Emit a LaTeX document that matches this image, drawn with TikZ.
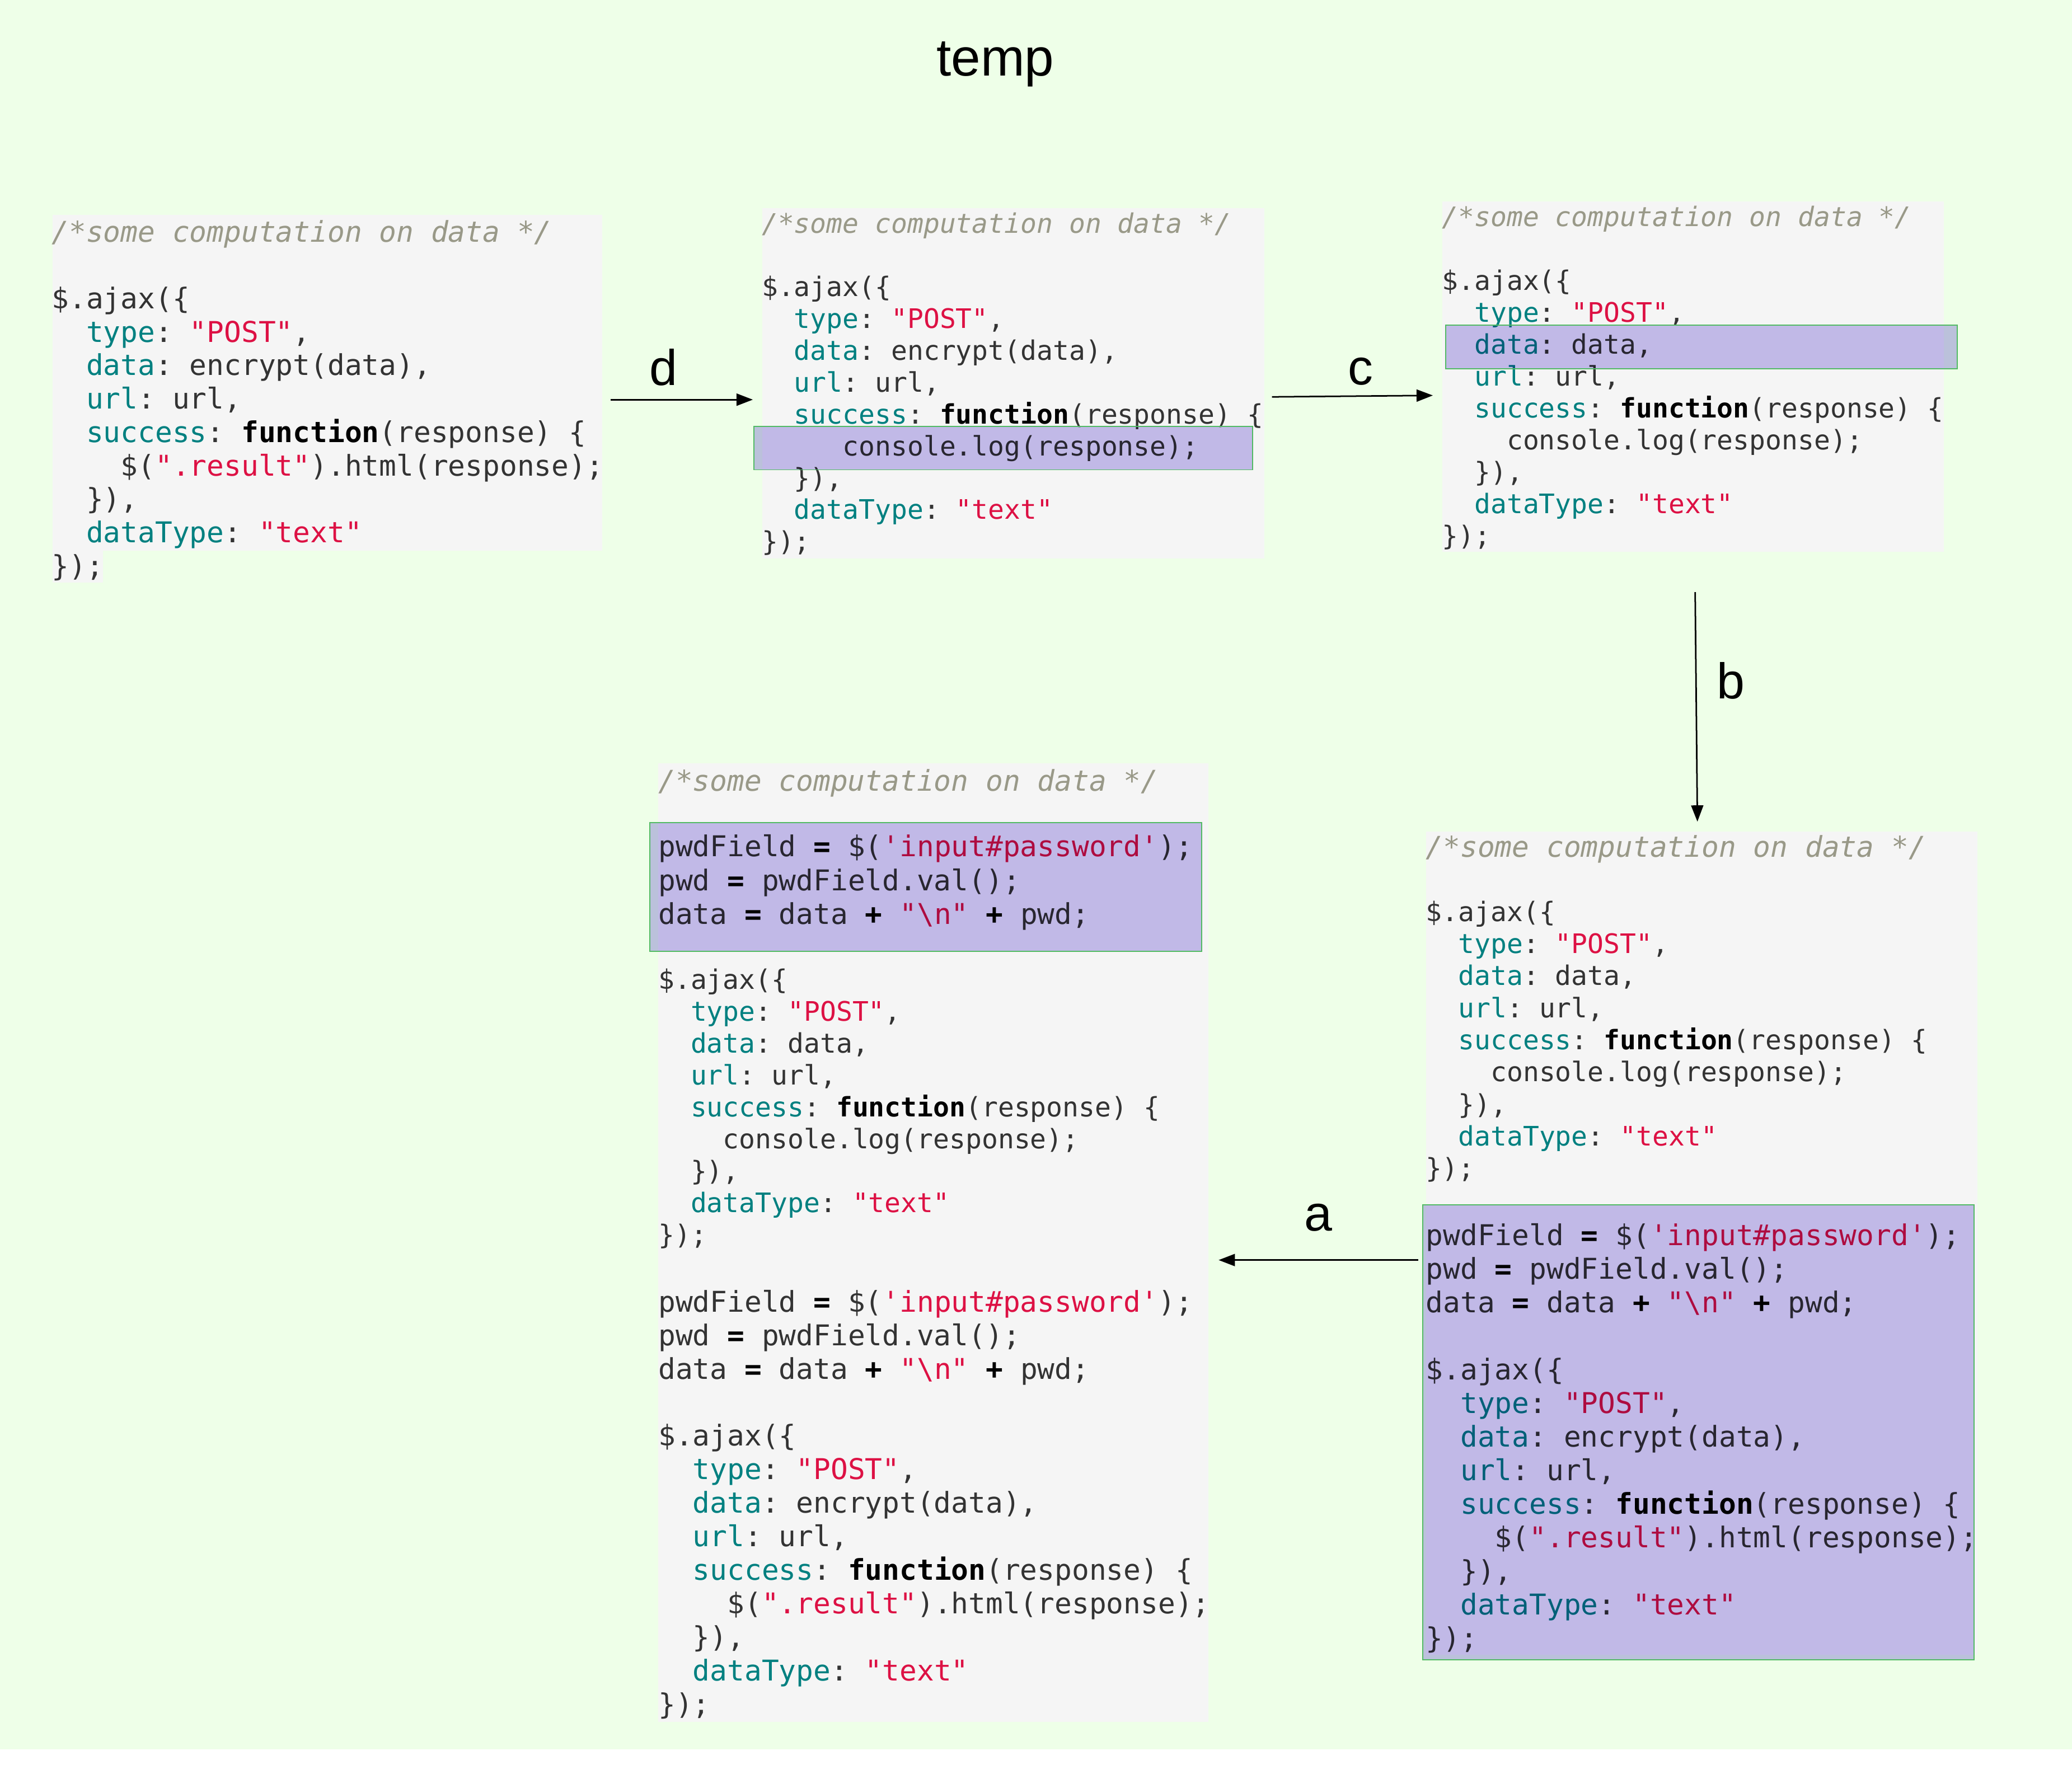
\documentclass[tikz,border=0pt]{standalone}
\usepackage{fontspec}
\setmainfont{Liberation Sans}
\setmonofont{DejaVu Sans Mono}[ItalicFont={DejaVu Sans Mono Oblique},BoldFont={DejaVu Sans Mono Bold},BoldItalicFont={DejaVu Sans Mono Bold Oblique}]
\usetikzlibrary{arrows.meta}
\definecolor{bgc}{RGB}{238,255,232}
\definecolor{codebg}{RGB}{245,245,245}
\definecolor{hlc}{RGB}{201,193,241}
\definecolor{hlborder}{RGB}{82,186,100}
\definecolor{keyc}{RGB}{0,128,128}
\definecolor{strc}{RGB}{221,17,68}
\definecolor{cmtc}{RGB}{153,153,136}
\definecolor{txtc}{RGB}{51,51,51}
\newcommand\ckey[1]{\textcolor{keyc}{#1}}
\newcommand\cstr[1]{\textcolor{strc}{#1}}
\newcommand\cbf[1]{\textcolor{black}{\bfseries #1}}
\newcommand\ccom[1]{\textcolor{cmtc}{\itshape #1}}
\newcommand\Lcomment{\ccom{/*some computation on data */}}
\newcommand\Lajax{\$.ajax(\{}
\newcommand\Ltype{~~\ckey{type}: \cstr{"POST"},}
\newcommand\Ldataenc{~~\ckey{data}: encrypt(data),}
\newcommand\Ldata{~~\ckey{data}: data,}
\newcommand\Lurl{~~\ckey{url}: url,}
\newcommand\Lsucc{~~\ckey{success}: \cbf{function}(response) \{}
\newcommand\Lres{~~~~\$(\cstr{".result"}).html(response);}
\newcommand\Lcons{~~~~console.log(response);}
\newcommand\Lclose{~~\}),}
\newcommand\Ldt{~~\ckey{dataType}: \cstr{"text"}}
\newcommand\Lend{\});}
\newcommand\Lpwdf{pwdField \cbf{=} \$(\cstr{'input\#password'});}
\newcommand\Lpwd{pwd \cbf{=} pwdField.val();}
\newcommand\Lpdata{data \cbf{=} data \cbf{+} \cstr{"\textbackslash n"} \cbf{+} pwd;}
\newcommand\Lblank{\mbox{}}
\tikzset{
  code/.style={inner sep=0pt, outer sep=0pt, anchor=base west, align=left, text=txtc},
  codeb/.style={code, font={\ttfamily\fontsize{13}{#1}\selectfont}},
  codes/.style={code, font={\ttfamily\fontsize{12.2}{#1}\selectfont}},
  lbl/.style={inner sep=0pt, anchor=base, font={\fontsize{22.8}{27}\selectfont}},
  ttl/.style={inner sep=0pt, anchor=base, font={\fontsize{24}{29}\selectfont}},
  arr/.style={line width=0.7pt, -{Triangle[length=7.4pt,width=5.5pt]}},
  hlfill/.style={fill=hlc, blend mode=multiply},
  hlline/.style={draw=hlborder, line width=0.45pt}
}
\begin{document}
\begin{tikzpicture}[x=0.6pt,y=-0.6pt]
\useasboundingbox (0,0) rectangle (1568,1335.5);
\fill[white] (0,0) rectangle (1568,1335.5);
\fill[bgc] (0,0) rectangle (1568,1324);
% grey code backgrounds
\fill[codebg] (39.8,162.7) rectangle (455.8,416.6);
\fill[codebg] (39.8,416.6) rectangle (78,441);
\fill[codebg] (576.9,157.5) rectangle (956.8,422.7);
\fill[codebg] (1091.6,152.4) rectangle (1471,417.6);
\fill[codebg] (498.2,577.7) rectangle (914.5,1303.3);
\fill[codebg] (1079,629.3) rectangle (1496.2,1252.4);
% title
\node[ttl] (title) at (753.2,57.6) {temp};
% box 1 (anchor = baseline of last line)
\node[codeb=15.18] (t1) at (39.2,436) {\Lcomment\\\Lblank\\\Lajax\\\Ltype\\\Ldataenc\\\Lurl\\\Lsucc\\\Lres\\\Lclose\\\Ldt\\\Lend};
% box 2
\node[codes=14.45] (t2) at (576.5,417.1) {\Lcomment\\\Lblank\\\Lajax\\\Ltype\\\Ldataenc\\\Lurl\\\Lsucc\\~~~~~console.log(response);\\\Lclose\\\Ldt\\\Lend};
% box 3
\node[codes=14.49] (t3) at (1091.3,412.7) {\Lcomment\\\Lblank\\\Lajax\\\Ltype\\\Ldata\\\Lurl\\\Lsucc\\\Lcons\\\Lclose\\\Ldt\\\Lend};
% box 4
\node[codeb=15.39] (t4c) at (498.2,598.7) {\Lcomment};
\node[codeb=15.39] (t4h) at (498.2,699.7) {\Lpwdf\\\Lpwd\\\Lpdata};
\node[codes=14.49] (t4a) at (498.2,941.8) {\Lajax\\\Ltype\\\Ldata\\\Lurl\\\Lsucc\\\Lcons\\\Lclose\\\Ldt\\\Lend};
\node[codeb=15.23] (t4b) at (498.2,1297.5) {\Lpwdf\\\Lpwd\\\Lpdata\\\Lblank\\\Lajax\\\Ltype\\\Ldataenc\\\Lurl\\\Lsucc\\\Lres\\\Lclose\\\Ldt\\\Lend};
% box 5
\node[codes=14.56] (t5a) at (1079.1,891.4) {{\fontsize{13}{14.56}\selectfont\Lcomment}\\\Lblank\\\Lajax\\\Ltype\\\Ldata\\\Lurl\\\Lsucc\\\Lcons\\\Lclose\\\Ldt\\\Lend};
\node[codeb=15.25] (t5h) at (1079.1,1247.4) {\Lpwdf\\\Lpwd\\\Lpdata\\\Lblank\\\Lajax\\\Ltype\\\Ldataenc\\\Lurl\\\Lsucc\\\Lres\\\Lclose\\\Ldt\\\Lend};
% highlights
\fill[hlfill] (570.5,322.7) rectangle (947.9,355.6);
\draw[hlline] (570.5,322.7) rectangle (947.9,355.6);
\fill[hlfill] (1094,246) rectangle (1481.3,279);
\draw[hlline] (1094,246) rectangle (1481.3,279);
\fill[hlfill] (491.8,622.6) rectangle (909.2,720.2);
\draw[hlline] (491.8,622.6) rectangle (909.2,720.2);
\fill[hlfill] (1076.7,911.8) rectangle (1493.9,1256.2);
\draw[hlline] (1076.7,911.8) rectangle (1493.9,1256.2);
% connectors
\coordinate (dS) at (462,302.5);
\coordinate (dE) at (569.7,302.5);
\coordinate (cS) at (962.6,300.4);
\coordinate (cE) at (1084.3,299.3);
\coordinate (bS) at (1282.8,448.2);
\coordinate (bE) at (1284.5,621.9);
\coordinate (aS) at (1073.3,953.7);
\coordinate (aE) at (922.2,953.7);
\draw[arr] (dS) -- (dE);
\draw[arr] (cS) -- (cE);
\draw[arr] (bS) -- (bE);
\draw[arr] (aS) -- (aE);
\node[lbl] (ld) at (502,291.8) {d};
\node[lbl] (lc) at (1029.5,291.4) {c};
\node[lbl] (lb) at (1310,528.6) {b};
\node[lbl] (la) at (997.5,931.8) {a};
\end{tikzpicture}
\end{document}
